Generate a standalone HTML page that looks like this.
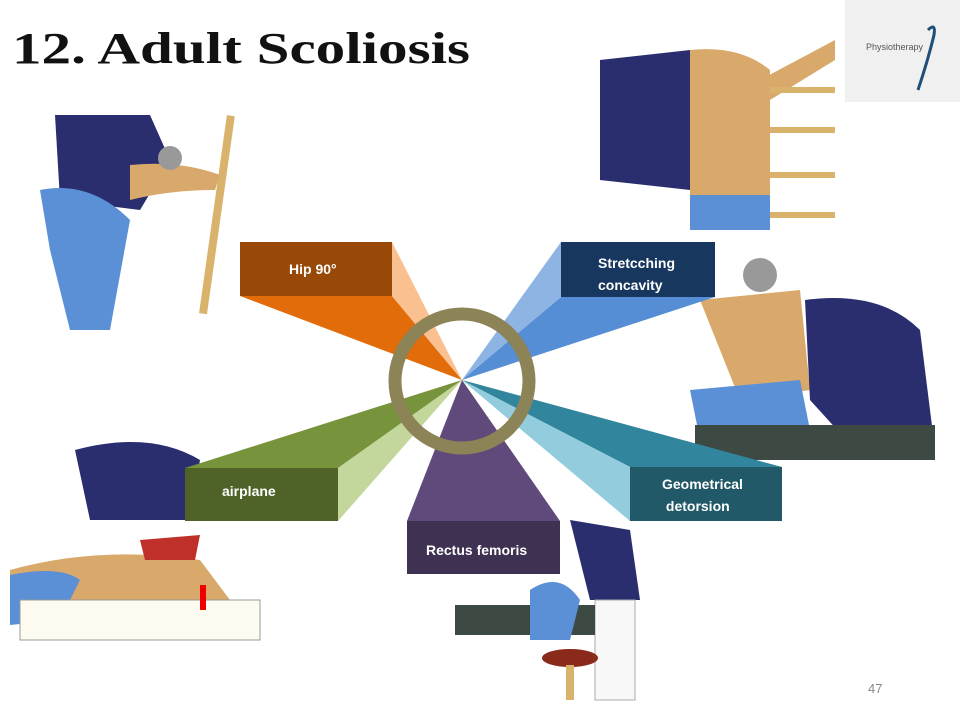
<!DOCTYPE html>
<html><head><style>
body{margin:0;width:960px;height:720px;background:#fff;overflow:hidden;font-family:"Liberation Sans",sans-serif;position:relative}
.t{position:absolute;color:#fff;font-weight:bold;font-size:14px;line-height:22px}
</style></head><body>
<svg width="960" height="720" style="position:absolute;left:0;top:0">
<rect x="845" y="0" width="115" height="102" fill="#f0f0f0"/>
<text x="866" y="50" font-size="9" fill="#555" font-family="Liberation Sans">Physiotherapy</text>
<path d="M928 30 q8 -8 6 5 q-6 25 -16 55" stroke="#1f4e79" stroke-width="3" fill="none"/>
<g>
<rect x="215" y="115" width="8" height="200" fill="#d9b36b" transform="rotate(8 220 200)"/>
<path d="M55 115 L150 115 L170 160 L140 210 L60 200 Z" fill="#2a2d6e"/>
<path d="M40 190 Q90 180 130 220 L110 330 L70 330 L50 250 Z" fill="#5b8fd6"/>
<path d="M130 165 Q180 160 220 175 L215 190 Q170 190 130 200 Z" fill="#d8a96a"/>
<circle cx="170" cy="158" r="12" fill="#999"/>
<path d="M600 60 L690 50 L700 120 L690 190 L600 180 Z" fill="#2a2d6e"/>
<path d="M690 50 Q740 45 770 70 L770 200 L690 210 Z" fill="#d8a96a"/>
<path d="M760 80 L835 40 L835 60 L770 100 Z" fill="#d8a96a"/>
<rect x="690" y="195" width="80" height="35" fill="#5b8fd6"/>
<line x1="770" y1="90" x2="835" y2="90" stroke="#d9b36b" stroke-width="6"/>
<line x1="770" y1="130" x2="835" y2="130" stroke="#d9b36b" stroke-width="6"/>
<line x1="770" y1="175" x2="835" y2="175" stroke="#d9b36b" stroke-width="6"/>
<line x1="770" y1="215" x2="835" y2="215" stroke="#d9b36b" stroke-width="6"/>
<path d="M700 300 L800 290 L810 390 L740 400 Z" fill="#d8a96a"/>
<circle cx="760" cy="275" r="17" fill="#999"/>
<path d="M805 300 Q880 290 920 330 L935 450 L860 455 L810 400 Z" fill="#2a2d6e"/>
<path d="M690 390 L800 380 L810 430 L700 440 Z" fill="#5b8fd6"/>
<rect x="695" y="425" width="240" height="35" fill="#3d4a44"/>
<path d="M75 450 Q150 430 200 460 L190 520 L90 520 Z" fill="#2a2d6e"/>
<path d="M10 570 Q100 545 200 560 L230 600 L60 620 L10 620 Z" fill="#d8a96a"/>
<path d="M10 575 Q60 565 80 580 L60 620 L10 625 Z" fill="#5b8fd6"/>
<rect x="20" y="600" width="240" height="40" fill="#fdfaf0" stroke="#999"/>
<path d="M140 540 L200 535 L195 560 L145 560 Z" fill="#c0302a"/>
<rect x="200" y="585" width="6" height="25" fill="#e00"/>
<path d="M570 520 L630 530 L640 600 L590 600 Z" fill="#2a2d6e"/>
<rect x="595" y="600" width="40" height="100" fill="#f8f8f8" stroke="#aaa"/>
<rect x="455" y="605" width="140" height="30" fill="#3d4a44"/>
<path d="M530 590 Q560 570 580 600 L570 640 L530 640 Z" fill="#5b8fd6"/>
<ellipse cx="570" cy="658" rx="28" ry="9" fill="#8a2a1a"/>
<rect x="566" y="665" width="8" height="35" fill="#d9b36b"/>
</g>
<g>
<polygon points="240,296 392,296 462,380" fill="#e36c0a"/>
<polygon points="392,242 392,296 462,380" fill="#fac090"/>
<rect x="240" y="242" width="152" height="54" fill="#984807"/>
<polygon points="561,297 715,297 462,380" fill="#558ed5"/>
<polygon points="561,242 561,297 462,380" fill="#8eb4e3"/>
<rect x="561" y="242" width="154" height="55" fill="#17375e"/>
<polygon points="185,468 338,468 462,380" fill="#77933c"/>
<polygon points="338,468 338,521 462,380" fill="#c3d69b"/>
<rect x="185" y="468" width="153" height="53" fill="#4f6228"/>
<polygon points="630,467 782,467 462,380" fill="#31859c"/>
<polygon points="630,467 630,521 462,380" fill="#93cddd"/>
<rect x="630" y="467" width="152" height="54" fill="#215968"/>
<polygon points="407,521 560,521 462,380" fill="#604a7b"/>
<rect x="407" y="521" width="153" height="53" fill="#3f3151"/>
<circle cx="462" cy="381" r="67" fill="none" stroke="#8c8356" stroke-width="13"/>
</g>
<text x="12" y="63" font-family="Liberation Serif" font-weight="bold" font-size="44" fill="#111" textLength="458" lengthAdjust="spacingAndGlyphs">12. Adult Scoliosis</text>
<text x="868" y="693" font-size="13" fill="#888" font-family="Liberation Sans">47</text>
</svg>
<div class="t" style="left:289px;top:258px">Hip 90°</div>
<div class="t" style="left:598px;top:252px">Stretcching<br>concavity</div>
<div class="t" style="left:222px;top:480px">airplane</div>
<div class="t" style="left:662px;top:473px">Geometrical<br>&nbsp;detorsion</div>
<div class="t" style="left:426px;top:539px">Rectus femoris</div>
</body></html>
